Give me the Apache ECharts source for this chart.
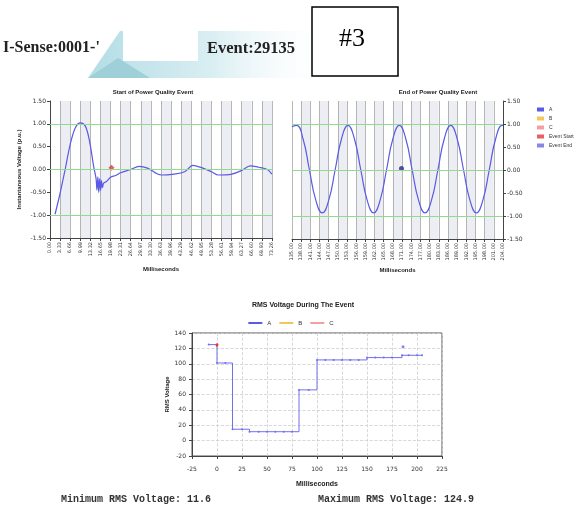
<!DOCTYPE html>
<html><head><meta charset="utf-8">
<script src="https://cdn.jsdelivr.net/npm/echarts@6/dist/echarts.min.js"></script>
<style>html,body{margin:0;padding:0;background:#fff}#c{width:582px;height:513px}</style>
</head><body><div id="c"></div>
<script>
// ---- data ----
const startTime = [1.67, 3.33, 5.0, 6.67, 8.33, 10.0, 11.67, 13.1, 14.4, 15.2, 15.5, 15.8, 16.1, 16.4, 16.7, 17.0, 17.3, 17.7, 18.5, 20.0, 21.7, 23.3, 26.7, 29.4, 32.2, 36.7, 41.0, 44.4, 47.2, 50.0, 53.3, 55.6, 60.0, 63.3, 66.1, 68.9, 71.7, 73.2];
const startVolt = [-0.98, -0.52, 0.0, 0.55, 0.91, 1.02, 0.95, 0.6, 0.07, -0.2, -0.45, -0.16, -0.5, -0.2, -0.46, -0.24, -0.4, -0.3, -0.27, -0.17, -0.13, -0.07, 0.0, 0.07, 0.03, -0.12, -0.1, -0.05, 0.09, 0.04, -0.05, -0.12, -0.1, -0.02, 0.08, 0.05, 0.0, -0.1];
const endTime = [135.0, 136.5, 138.6, 140.7, 142.8, 144.9, 147.0, 149.1, 151.2, 153.3, 155.4, 157.5, 159.6, 161.7, 163.8, 165.9, 168.0, 170.1, 172.2, 174.3, 176.4, 178.5, 180.6, 182.7, 184.8, 186.9, 189.0, 191.1, 193.2, 195.3, 197.4, 199.5, 201.6, 203.7, 204.0];
const endVolt = [0.94, 0.97, 0.68, 0.0, -0.66, -0.93, -0.66, 0.0, 0.68, 0.97, 0.68, 0.0, -0.66, -0.93, -0.66, 0.0, 0.68, 0.97, 0.68, 0.0, -0.66, -0.93, -0.66, 0.0, 0.68, 0.97, 0.68, 0.0, -0.66, -0.93, -0.66, 0.0, 0.68, 0.97, 0.97];
const eventStartPt = [20.3, 0.04];
const eventEndPt = [170.8, 0.03];
const rmsTime = [-8.3, 0, 8.3, 15.5, 25, 32.5, 41.7, 50, 58.3, 66.7, 75, 82, 91.7, 100, 108.3, 116.7, 125, 133.3, 141.7, 150, 158.3, 166.7, 175, 185, 191.7, 200, 205];
const rmsA = [124.9, 101, 101, 14.8, 14.8, 11.6, 11.6, 11.6, 11.6, 11.6, 11.6, 66, 66, 105, 105, 105, 105, 105, 105, 108, 108, 108, 108, 111, 111, 111, 111];
const rmsStartMark = [0, 121];
const rmsEndMark = [186, 122];
const minRms = 11.6, maxRms = 124.9;

// ---- chart ----
const blue = '#5a5ae6', yellowC = '#f2c75c', pinkC = '#f2a0a0', redC = '#e03a3a', navy = '#2b2b8c';
const zip = (a, b) => a.map((x, i) => [x, b[i]]);
const green = {silent: true, symbol: 'none', label: {show: false}, lineStyle: {color: '#8fdc8f', type: 'solid', width: 1.2}, data: [{yAxis: 1}, {yAxis: 0}, {yAxis: -1}]};
const small = {fontSize: 6, color: '#333', fontFamily: 'DejaVu Sans'};
function topX(idx, min, max, interval) {
  return {type: 'value', gridIndex: idx, min: min, max: max, interval: interval,
    name: 'Milliseconds', nameLocation: 'middle', nameGap: 28,
    nameTextStyle: {fontSize: 6, fontWeight: 'bold', color: '#222'},
    axisLine: {onZero: false, lineStyle: {color: '#444'}}, axisTick: {lineStyle: {color: '#444'}, length: 3},
    axisLabel: Object.assign({rotate: 90, formatter: v => v.toFixed(2), margin: 4}, small, {fontSize: 5}),
    splitLine: {show: true, lineStyle: {color: '#9a9a9a', width: 0.7}},
    splitArea: {show: true, areaStyle: {color: ['#ffffff', '#eceef4']}}};
}
function topY(idx, pos) {
  return {type: 'value', gridIndex: idx, min: -1.5, max: 1.5, interval: 0.5, position: pos,
    name: pos === 'left' ? 'Instantaneous Voltage (p.u.)' : '', nameLocation: 'middle', nameGap: 28,
    nameTextStyle: {fontSize: 6, fontWeight: 'bold', color: '#222'},
    axisLine: {show: true, onZero: false, lineStyle: {color: '#444'}}, axisTick: {show: true, length: 3, lineStyle: {color: '#444'}},
    axisLabel: Object.assign({formatter: v => v.toFixed(2), margin: 4}, small),
    splitLine: {show: false}};
}
const chart = echarts.init(document.getElementById('c'));
chart.setOption({
  animation: false,
  title: [
    {text: 'Start of Power Quality Event', left: 148, top: 84, textAlign: 'center', textStyle: {fontSize: 6, fontWeight: 'bold', color: '#222'}},
    {text: 'End of Power Quality Event', left: 433, top: 84, textAlign: 'center', textStyle: {fontSize: 6, fontWeight: 'bold', color: '#222'}},
    {text: 'RMS Voltage During The Event', left: 298, top: 297, textAlign: 'center', textStyle: {fontSize: 7, fontWeight: 'bold', color: '#222'}}
  ],
  legend: [
    {orient: 'vertical', left: 532, top: 102, itemWidth: 7, itemHeight: 4, itemGap: 4, icon: 'rect',
      textStyle: {fontSize: 5, color: '#333'},
      data: [
        {name: 'A', itemStyle: {color: blue}}, {name: 'B', itemStyle: {color: yellowC}}, {name: 'C', itemStyle: {color: pinkC}},
        {name: 'Event Start', itemStyle: {color: redC}}, {name: 'Event End', itemStyle: {color: '#6a6ad8'}}]},
    {orient: 'horizontal', left: 'center', top: 315, itemWidth: 14, itemHeight: 2, itemGap: 8, icon: 'rect',
      textStyle: {fontSize: 6, color: '#333'},
      data: [{name: 'A', itemStyle: {color: blue}}, {name: 'B', itemStyle: {color: yellowC}}, {name: 'C', itemStyle: {color: pinkC}}]}
  ],
  grid: [
    {left: 50, top: 101, width: 222, height: 137},
    {left: 292, top: 101, width: 211, height: 138},
    {left: 192, top: 333, width: 250, height: 123, show: true, borderColor: '#555', borderWidth: 1}
  ],
  xAxis: [
    topX(0, 0, 73.26, 3.33),
    topX(1, 135, 204, 3),
    {type: 'value', gridIndex: 2, min: -25, max: 225, interval: 25,
      name: 'Milliseconds', nameLocation: 'middle', nameGap: 25, nameTextStyle: {fontSize: 7, fontWeight: 'bold', color: '#222'},
      axisLine: {onZero: false, lineStyle: {color: '#444'}}, axisTick: {length: 3, lineStyle: {color: '#444'}},
      axisLabel: Object.assign({margin: 10}, small),
      splitLine: {show: true, lineStyle: {color: '#cfcfcf', type: 'dashed', width: 0.8}}}
  ],
  yAxis: [
    topY(0, 'left'),
    topY(1, 'right'),
    {type: 'value', gridIndex: 2, min: -20, max: 140, interval: 20,
      name: 'RMS Voltage', nameLocation: 'middle', nameGap: 22, nameTextStyle: {fontSize: 6, fontWeight: 'bold', color: '#222'},
      axisLine: {show: true, onZero: false, lineStyle: {color: '#444'}}, axisTick: {show: true, length: 3, lineStyle: {color: '#444'}},
      axisLabel: Object.assign({margin: 6}, small),
      splitLine: {show: true, lineStyle: {color: '#cfcfcf', type: 'dashed', width: 0.8}}}
  ],
  series: [
    {name: 'A', type: 'line', xAxisIndex: 0, yAxisIndex: 0, data: zip(startTime, startVolt), smooth: 0.35, symbol: 'none',
      lineStyle: {color: blue, width: 1.2}, itemStyle: {color: blue}, markLine: green},
    {name: 'Event Start', type: 'scatter', xAxisIndex: 0, yAxisIndex: 0, data: [eventStartPt], symbol: 'diamond', symbolSize: 6, itemStyle: {color: redC}},
    {name: 'A', type: 'line', xAxisIndex: 1, yAxisIndex: 1, data: zip(endTime, endVolt), smooth: 0.5, symbol: 'none',
      lineStyle: {color: blue, width: 1.2}, itemStyle: {color: blue}, markLine: green},
    {name: 'B', type: 'line', xAxisIndex: 1, yAxisIndex: 1, data: [], itemStyle: {color: yellowC}},
    {name: 'C', type: 'line', xAxisIndex: 1, yAxisIndex: 1, data: [], itemStyle: {color: pinkC}},
    {name: 'Event End', type: 'scatter', xAxisIndex: 1, yAxisIndex: 1, data: [eventEndPt], symbol: 'circle', symbolSize: 5, itemStyle: {color: navy}},
    {name: 'A', type: 'line', xAxisIndex: 2, yAxisIndex: 2, data: zip(rmsTime, rmsA), step: 'end', symbol: 'circle', symbolSize: 2,
      lineStyle: {color: '#7070ee', width: 1}, itemStyle: {color: '#7070ee'}},
    {name: 'B', type: 'line', xAxisIndex: 2, yAxisIndex: 2, data: [], itemStyle: {color: yellowC}},
    {name: 'C', type: 'line', xAxisIndex: 2, yAxisIndex: 2, data: [rmsStartMark], symbol: 'pin', symbolSize: 5, itemStyle: {color: redC}},
    {name: 'rmsEnd', type: 'scatter', xAxisIndex: 2, yAxisIndex: 2, data: [rmsEndMark], symbol: 'circle', symbolSize: 3, itemStyle: {color: '#6a6ad8'}}
  ],
  graphic: [
    {type: 'polygon', z: 0, shape: {points: [[120, 31], [335, 31], [335, 78], [88, 78]]},
      style: {fill: new echarts.graphic.LinearGradient(0, 0, 1, 0, [
        {offset: 0, color: '#b3dde5'}, {offset: 0.5, color: '#d9eef2'}, {offset: 1, color: 'rgba(255,255,255,0)'}])}},
    {type: 'polygon', z: 1, shape: {points: [[88, 78], [118, 58], [150, 78]]}, style: {fill: '#9fd0d9'}},
    {type: 'rect', z: 2, shape: {x: 123, y: 31, width: 75, height: 30}, style: {fill: '#ffffff'}},
    {type: 'text', z: 3, left: 3, top: 40, style: {text: 'I-Sense:0001-\'', font: 'bold 16px "Liberation Serif"', fill: '#222'}},
    {type: 'text', z: 3, left: 207, top: 40, style: {text: 'Event:29135', font: 'bold 16.5px "Liberation Serif"', fill: '#222'}},
    {type: 'rect', z: 4, shape: {x: 312, y: 7, width: 86, height: 69}, style: {fill: '#fff', stroke: '#000', lineWidth: 1.5}},
    {type: 'text', z: 5, left: 339, top: 26, style: {text: '#3', font: '26px "Liberation Serif"', fill: '#000'}},
    {type: 'text', z: 3, left: 61, top: 494, style: {text: 'Minimum RMS Voltage: ' + minRms.toFixed(1), font: 'bold 10px "Liberation Mono"', fill: '#333'}},
    {type: 'text', z: 3, left: 318, top: 494, style: {text: 'Maximum RMS Voltage: ' + maxRms.toFixed(1), font: 'bold 10px "Liberation Mono"', fill: '#333'}}
  ]
});
</script></body></html>
